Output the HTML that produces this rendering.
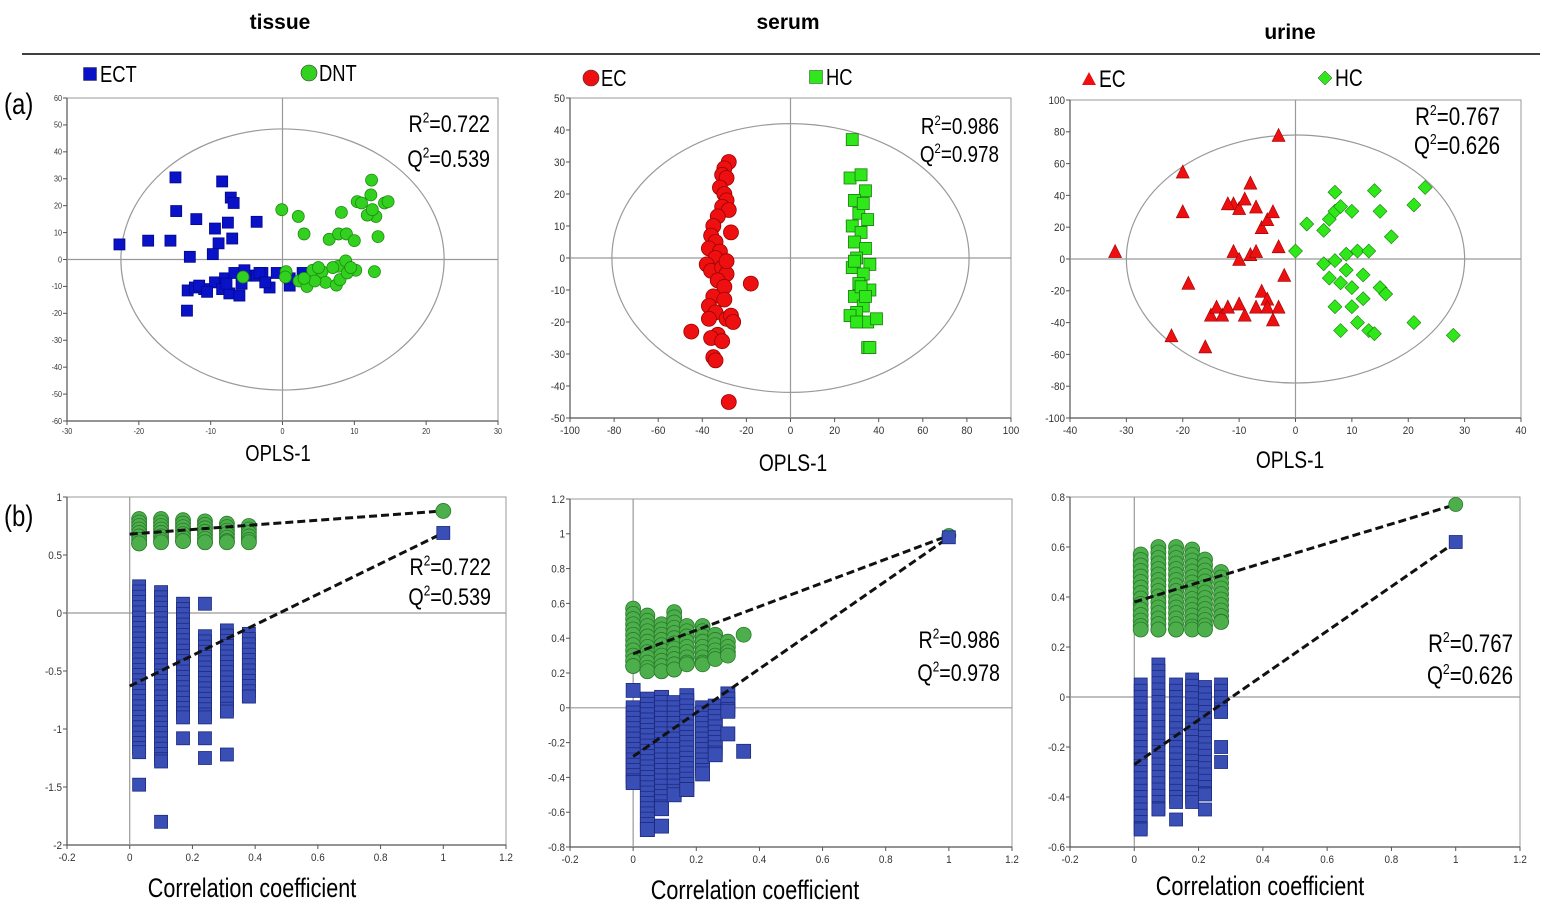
<!DOCTYPE html>
<html><head><meta charset="utf-8">
<style>
html,body{margin:0;padding:0;background:#fff;}
svg{display:block;font-family:"Liberation Sans",sans-serif;}
</style></head>
<body>
<svg id="fig" width="1544" height="916" viewBox="0 0 1544 916" xmlns="http://www.w3.org/2000/svg">
<text x="280" y="29" text-anchor="middle" font-size="21" font-weight="bold">tissue</text>
<text x="788" y="29" text-anchor="middle" font-size="21" font-weight="bold">serum</text>
<text x="1290" y="39" text-anchor="middle" font-size="21" font-weight="bold">urine</text>
<line x1="22" y1="54" x2="1540" y2="54" stroke="#000" stroke-width="1.5"/>
<g transform="translate(4,114) scale(0.8,1)"><text x="0" y="0" font-size="30">(a)</text></g>
<g transform="translate(4,526) scale(0.8,1)"><text x="0" y="0" font-size="30">(b)</text></g>
</svg>
<script>
// ---------- DATA ----------
const tissueECT_x=[-22.7,-18.7,-15.6,-14.9,-14.8,-12,-12.9,-9.4,-8.4,-8.9,-7.2,-6.8,-7.6,-7,-3.6,-13.2,-13.3,-12.2,-10.9,-9.4,-8.4,-7.4,-6,-5.7,-4.6,-3.6,-2.8,-1.8,-0.8,1,2.8,-9.7,-11.6,-8,-6.7,-5.3,-3.2,1,-2.4,-10.5,-7.8];
const tissueECT_y=[5.6,7,7,30.5,18,15,1,11.5,29,6,23,21,13.7,7.8,14,-11.5,-19,-10.4,-11,-8.5,-11,-12.6,-13.4,-9,-6,-6,-5,-10.4,-5,-9.7,-5,2,-9.7,-7,-5,-4,-5,-7,-8.5,-12,-9];
const tissueDNT_x=[-0.1,2.2,3,6.5,7.8,8.2,10.4,11,12.4,12.3,13,14.2,14.7,11.8,12.5,13.3,8.9,10,7.8,-5.5,0.5,0.4,2.3,3.4,4.2,5.5,6,7.5,8,8.8,10.2,12.8,4.5,9,3,5,7,9.5];
const tissueDNT_y=[18.5,16,9.5,7.5,9.5,17.5,21.5,21,29.5,24,16,21,21.5,16.5,18.5,8.5,9.5,7,-2.5,-6.5,-4.5,-6.5,-8,-10,-4,-4.5,-8.5,-9.5,-7.5,-0.5,-4,-4.5,-8,-5,-7,-3,-3,-3];
const serumEC_x=[-28,-30,-31,-29,-32,-30,-29,-31,-28,-33,-35,-36,-34,-37,-32,-34,-38,-36,-31,-29,-33,-30,-35,-37,-34,-29,-27,-37,-45,-33,-36,-31,-35,-34,-28,-18,-27,-29,-26,-30];
const serumEC_y=[30,28,26,25,22,20,18,16,15,13,10,7,5,3,2,0,-2,-4,-3,-5,-7,-9,-12,-15,-17,-19,-18,-19,-23,-24,-25,-26,-31,-32,-45,-8,8,-1,-20,-13];
const serumHC_x=[28,27,32,34,29,31,35,28,32,29,34,30,36,28,33,31,36,29,33,30,35,27,39,35,36,32,29,33,30,34];
const serumHC_y=[37,25,26,21,18,14,12,10,8,5,3,0,-2,-3,-5,-8,-10,-12,-15,-17,-20,-18,-19,-28,-28,-9,-1,17,-20,-12];
const urineEC_x=[-32,-20,-20,-19,-22,-16,-15,-14,-12,-11,-10,-9,-8,-7,-6,-5,-4,-3,-11,-10,-8,-6,-5,-7,-9,-10,-4,-5,-3,-13,-12,-2,-12,-7,-3];
const urineEC_y=[5,55,30,-15,-48,-55,-35,-30,-30,35,32,38,48,33,20,25,30,78,5,0,3,-20,-25,-30,-35,-28,-38,-30,-30,-35,-30,-10,35,5,8];
const urineHC_x=[0,2,5,6,7,8,10,7,14,15,17,21,23,5,7,9,11,13,8,10,12,15,16,10,7,8,11,13,14,21,28,9,6,12];
const urineHC_y=[5,22,18,25,30,33,30,42,43,30,14,34,45,-3,-1,3,5,5,-15,-18,-25,-18,-22,-30,-30,-45,-40,-45,-47,-40,-48,-7,-12,-10];
const tisPermX=[0.03,0.1,0.17,0.24,0.31,0.38];
const tisR2Top=[0.81,0.81,0.80,0.79,0.77,0.75];
const tisR2Bot=[0.60,0.61,0.62,0.61,0.61,0.61];
const tisQ2Top=[0.23,0.18,0.08,-0.2,-0.15,-0.18];
const tisQ2Bot=[-1.2,-1.28,-0.9,-0.9,-0.85,-0.72];
const tisQ2ExtraX=[0.03,0.1,0.17,0.24,0.24,0.24,0.31];
const tisQ2ExtraY=[-1.48,-1.8,-1.08,0.08,-1.08,-1.25,-1.22];
const tisFinal=[0.88,0.69];
const tisLineR2=[0.68,0.88], tisLineQ2=[-0.63,0.69];
const serPermX=[0.0,0.045,0.09,0.13,0.17,0.22,0.26,0.3];
const serR2Top=[0.57,0.53,0.48,0.55,0.47,0.47,0.42,0.38];
const serR2Bot=[0.24,0.21,0.21,0.22,0.25,0.25,0.28,0.30];
const serQ2Top=[0.0,0.05,0.06,0.03,0.07,0.0,0.01,0.08];
const serQ2Bot=[-0.43,-0.7,-0.58,-0.5,-0.47,-0.38,-0.27,-0.02];
const serR2ExtraX=[0.35], serR2ExtraY=[0.42];
const serQ2ExtraX=[0.0,0.09,0.3,0.35], serQ2ExtraY=[0.1,-0.68,-0.15,-0.25];
const serFinal=[0.99,0.98];
const serLineR2=[0.31,0.99], serLineQ2=[-0.28,0.98];
const uriPermX=[0.02,0.075,0.13,0.18,0.22,0.27];
const uriR2Top=[0.57,0.6,0.6,0.59,0.55,0.5];
const uriR2Bot=[0.27,0.27,0.27,0.27,0.27,0.3];
const uriQ2Top=[0.05,0.13,0.05,0.07,0.04,0.05];
const uriQ2Bot=[-0.53,-0.45,-0.42,-0.42,-0.39,-0.06];
const uriQ2ExtraX=[0.13,0.22,0.27,0.27], uriQ2ExtraY=[-0.49,-0.45,-0.2,-0.26];
const uriFinal=[0.77,0.62];
const uriLineR2=[0.38,0.77], uriLineQ2=[-0.27,0.62];

// ---------- DRAW ----------
const NS="http://www.w3.org/2000/svg";
const svg=document.getElementById('fig');
function el(tag,attrs,parent){const e=document.createElementNS(NS,tag);for(const k in attrs)e.setAttribute(k,attrs[k]);(parent||svg).appendChild(e);return e;}
function txt(x,y,s,size,anchor,parent){const t=el('text',{x:x,y:y,'font-size':size,'text-anchor':anchor||'start'},parent);t.textContent=s;return t;}
function ctxt(x,y,s,size,anchor,parent,sc){const g=el('g',{transform:`translate(${x},${y}) scale(${sc||0.8},1)`},parent);return txt(0,0,s,size,anchor,g);}

function panel(name,px0,px1,py0,py1,xd,yd,xt,yt,tickSize,xlabel,xlabX,xlabY,xlabSize){
  const g=el('g',{});
  
  
  const sx=v=>px0+(v-xd[0])/(xd[1]-xd[0])*(px1-px0);
  const sy=v=>py1-(v-yd[0])/(yd[1]-yd[0])*(py1-py0);
  const fr=el('rect',{x:px0,y:py0,width:px1-px0,height:py1-py0,fill:'none',stroke:'#999','stroke-width':1},g);
  
  
  el('line',{x1:px0,y1:py0,x2:px0,y2:py1,stroke:'#555','stroke-width':1.2},g);
  el('line',{x1:px0,y1:py1,x2:px1,y2:py1,stroke:'#555','stroke-width':1.2},g);
  const zx=el('line',{x1:sx(0),y1:py0,x2:sx(0),y2:py1,stroke:'#999','stroke-width':1.2},g);
  
  
  const zy=el('line',{x1:px0,y1:sy(0),x2:px1,y2:sy(0),stroke:'#999','stroke-width':1.2},g);
  
  
  xt.forEach(v=>{el('line',{x1:sx(v),y1:py1,x2:sx(v),y2:py1+4,stroke:'#555'},g);
    const t=ctxt(sx(v),py1+tickSize+5,String(v),tickSize,'middle',g,0.9);t.setAttribute('fill','#333');
    
    });
  yt.forEach(v=>{el('line',{x1:px0-4,y1:sy(v),x2:px0,y2:sy(v),stroke:'#555'},g);
    const t=ctxt(px0-5,sy(v)+tickSize*0.35,String(v),tickSize,'end',g,0.9);t.setAttribute('fill','#333');
    
    });
  const xl=ctxt(xlabX,xlabY,xlabel,xlabSize,'middle',g,0.8);
  
  
  return {g,sx,sy};
}
function marker(p,shape,x,y,s,fill,stroke,nm){
  let m;
  const X=p.sx(x),Y=p.sy(y);
  if(shape==='sq') m=el('rect',{x:X-s/2,y:Y-s/2,width:s,height:s,fill:fill,stroke:stroke,'stroke-width':0.8},p.g);
  else if(shape==='ci') m=el('circle',{cx:X,cy:Y,r:s/2,fill:fill,stroke:stroke,'stroke-width':0.8},p.g);
  else if(shape==='tri') m=el('polygon',{points:`${X},${Y-s/2} ${X+s/2},${Y+s/2} ${X-s/2},${Y+s/2}`,fill:fill,stroke:stroke,'stroke-width':0.6},p.g);
  else m=el('polygon',{points:`${X},${Y-s/2} ${X+s/2},${Y} ${X},${Y+s/2} ${X-s/2},${Y}`,fill:fill,stroke:stroke,'stroke-width':0.6},p.g);
  
  
}
function scores(p,xs,ys,shape,s,fill,stroke,nm){xs.forEach((x,i)=>marker(p,shape,x,ys[i],s,fill,stroke,nm));}
function ellipse(p,rx,ry,cx,cy){const e=el('ellipse',{cx:p.sx(cx),cy:p.sy(cy),rx:Math.abs(p.sx(rx)-p.sx(0)),ry:Math.abs(p.sy(ry)-p.sy(0)),fill:'none',stroke:'#999','stroke-width':1.2},p.g);
  
  }
function stats(x,y1,y2,r,q,size){
  const a=ctxt(x,y1,'',size,'end',null,0.82);a.innerHTML=`R<tspan dy="-${size*0.4}" font-size="${size*0.6}">2</tspan><tspan dy="${size*0.4}">=${r}</tspan>`;
  
  
  const b=ctxt(x,y2,'',size,'end',null,0.82);b.innerHTML=`Q<tspan dy="-${size*0.4}" font-size="${size*0.6}">2</tspan><tspan dy="${size*0.4}">=${q}</tspan>`;
  
  
}
function legend(x,y,shape,fill,label,size){
  const g=el('g',{});
  
  
  const s=13;
  if(shape==='sq') el('rect',{x:x-s/2,y:y-s/2,width:s,height:s,fill:fill,stroke:'#333','stroke-width':0.5},g);
  else if(shape==='ci') el('circle',{cx:x,cy:y,r:8,fill:fill,stroke:'#333','stroke-width':0.6},g);
  else if(shape==='tri') el('polygon',{points:`${x},${y-7} ${x+7},${y+6} ${x-7},${y+6}`,fill:fill},g);
  else el('polygon',{points:`${x},${y-7} ${x+7},${y} ${x},${y+7} ${x-7},${y}`,fill:fill,stroke:'#333','stroke-width':0.5},g);
  ctxt(x+10,y+8,label,size,'start',g,0.8);
}
function perm(p,X,top,bot,s,shape,fill,stroke,step,nm){
  X.forEach((x,i)=>{for(let v=top[i];v>=bot[i]-1e-9;v-=step) marker(p,shape,x,v,s,fill,stroke,nm); marker(p,shape,x,bot[i],s,fill,stroke,nm);});
}
function dline(p,x1,y1,x2,y2,nm){const l=el('line',{x1:p.sx(x1),y1:p.sy(y1),x2:p.sx(x2),y2:p.sy(y2),stroke:'#111','stroke-width':3,'stroke-dasharray':'8,4'},p.g);
  
  }

const BLUE='#0a12c8',GREEN='#33d11f',RED='#ee1010',LGREEN='#2ee81a';
const PB='#3a4fb6',PG='#4caf4c';

// tissue (a)
let p=panel('tissue-score-plot',67,498,98,421,[-30,30],[-60,60],[-30,-20,-10,0,10,20,30],[60,50,40,30,20,10,0,-10,-20,-30,-40,-50,-60],8,'OPLS-1',278,461,23);
ellipse(p,22.5,48.5,0,0);
scores(p,tissueECT_x,tissueECT_y,'sq',11,BLUE,'#00088a','ect-point');
scores(p,tissueDNT_x,tissueDNT_y,'ci',12,GREEN,'#1e8a10','dnt-point');
legend(90,74,'sq',BLUE,'ECT',23);legend(309,73,'ci',GREEN,'DNT',23);
stats(490,132,167,'0.722','0.539',24);

// serum (a)
p=panel('serum-score-plot',570,1011,98,418,[-100,100],[-50,50],[-100,-80,-60,-40,-20,0,20,40,60,80,100],[50,40,30,20,10,0,-10,-20,-30,-40,-50],11,'OPLS-1',793,471,24);
ellipse(p,81,42,0,0);
scores(p,serumEC_x,serumEC_y,'ci',15,RED,'#900','ec-point');
scores(p,serumHC_x,serumHC_y,'sq',12,LGREEN,'#197a0c','hc-point');
legend(591,78,'ci',RED,'EC',23);legend(816,77,'sq',LGREEN,'HC',23);
stats(999,134,162,'0.986','0.978',23);

// urine (a)
p=panel('urine-score-plot',1070,1521,100,418,[-40,40],[-100,100],[-40,-30,-20,-10,0,10,20,30,40],[100,80,60,40,20,0,-20,-40,-60,-80,-100],11,'OPLS-1',1290,468,24);
ellipse(p,30,78,0,0);
scores(p,urineEC_x,urineEC_y,'tri',13,RED,'#900','ec-point');
scores(p,urineHC_x,urineHC_y,'dia',14,LGREEN,'#197a0c','hc-point');
legend(1089,79,'tri',RED,'EC',24);legend(1325,78,'dia',LGREEN,'HC',24);
stats(1500,125,154,'0.767','0.626',25);

// tissue (b)
p=panel('tissue-permutation-plot',67,506,497,845,[-0.2,1.2],[-2,1],[-0.2,0,0.2,0.4,0.6,0.8,1,1.2],[1,0.5,0,-0.5,-1,-1.5,-2],11,'Correlation coefficient',252,897,27);
perm(p,tisPermX,tisR2Top,tisR2Bot,15,'ci',PG,'#2a7a2a',0.03,'r2-permutation');
perm(p,tisPermX,tisQ2Top,tisQ2Bot,13,'sq',PB,'#1c2a80',0.045,'q2-permutation');
scores(p,tisQ2ExtraX,tisQ2ExtraY,'sq',13,PB,'#1c2a80','q2-permutation');
dline(p,0,tisLineR2[0],1,tisLineR2[1],'r2-regression-line');dline(p,0,tisLineQ2[0],1,tisLineQ2[1],'q2-regression-line');
marker(p,'ci',1,tisFinal[0],15,PG,'#2a7a2a','r2-original');marker(p,'sq',1,tisFinal[1],13,PB,'#1c2a80','q2-original');
stats(491,575,605,'0.722','0.539',24);

// serum (b)
p=panel('serum-permutation-plot',570,1012,499,847,[-0.2,1.2],[-0.8,1.2],[-0.2,0,0.2,0.4,0.6,0.8,1,1.2],[1.2,1,0.8,0.6,0.4,0.2,0,-0.2,-0.4,-0.6,-0.8],11,'Correlation coefficient',755,899,27);
perm(p,serPermX,serR2Top,serR2Bot,15,'ci',PG,'#2a7a2a',0.03,'r2-permutation');
scores(p,serR2ExtraX,serR2ExtraY,'ci',15,PG,'#2a7a2a','r2-permutation');
dline(p,0,serLineR2[0],1,serLineR2[1],'r2-regression-line');
perm(p,serPermX,serQ2Top,serQ2Bot,14,'sq',PB,'#1c2a80',0.03,'q2-permutation');
scores(p,serQ2ExtraX,serQ2ExtraY,'sq',14,PB,'#1c2a80','q2-permutation');
dline(p,0,serLineQ2[0],1,serLineQ2[1],'q2-regression-line');
marker(p,'ci',1,serFinal[0],14,PG,'#2a7a2a','r2-original');marker(p,'sq',1,serFinal[1],13,PB,'#1c2a80','q2-original');
stats(1000,648,681,'0.986','0.978',24);

// urine (b)
p=panel('urine-permutation-plot',1070,1520,497,847,[-0.2,1.2],[-0.6,0.8],[-0.2,0,0.2,0.4,0.6,0.8,1,1.2],[0.8,0.6,0.4,0.2,0,-0.2,-0.4,-0.6],11,'Correlation coefficient',1260,895,27);
perm(p,uriPermX,uriR2Top,uriR2Bot,15,'ci',PG,'#2a7a2a',0.022,'r2-permutation');
dline(p,0,uriLineR2[0],1,uriLineR2[1],'r2-regression-line');
perm(p,uriPermX,uriQ2Top,uriQ2Bot,13,'sq',PB,'#1c2a80',0.025,'q2-permutation');
scores(p,uriQ2ExtraX,uriQ2ExtraY,'sq',13,PB,'#1c2a80','q2-permutation');
dline(p,0,uriLineQ2[0],1,uriLineQ2[1],'q2-regression-line');
marker(p,'ci',1,uriFinal[0],14,PG,'#2a7a2a','r2-original');marker(p,'sq',1,uriFinal[1],13,PB,'#1c2a80','q2-original');
stats(1513,652,684,'0.767','0.626',25);
</script>
</body></html>
